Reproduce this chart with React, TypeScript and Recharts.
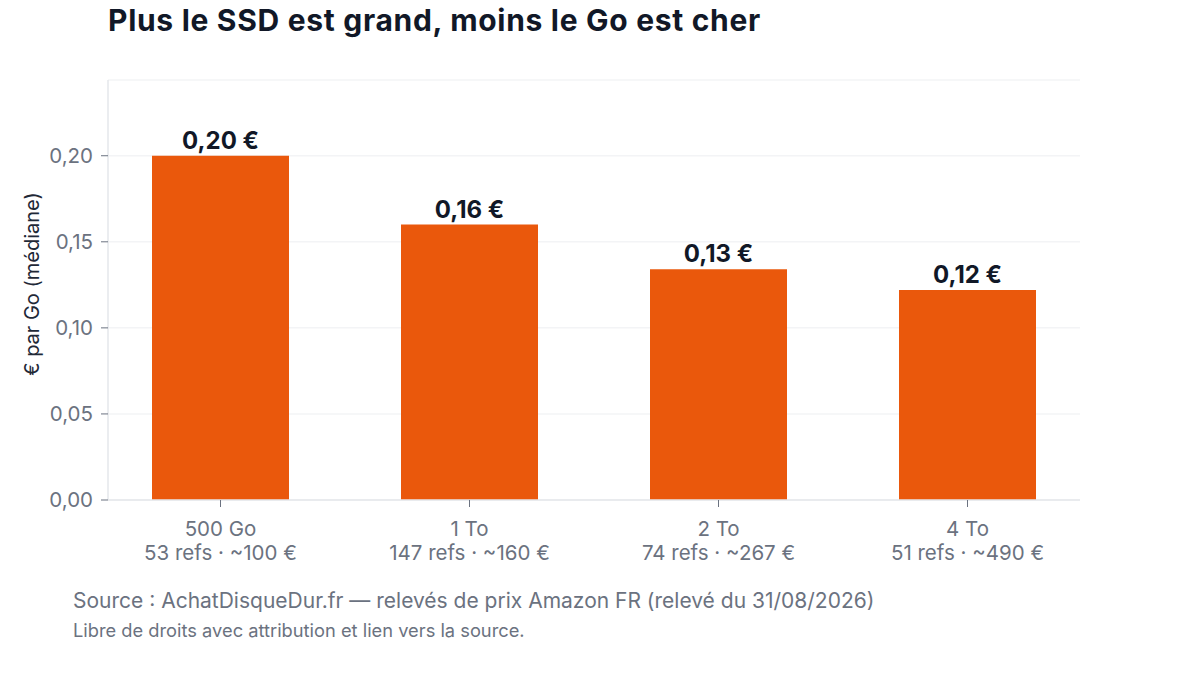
import React from 'react';
import { BarChart, Bar, XAxis, YAxis, CartesianGrid, LabelList, Label } from 'recharts';

const categories = ['500 Go', '1 To', '2 To', '4 To'];
const subLabels = ['53 refs · ~100 €', '147 refs · ~160 €', '74 refs · ~267 €', '51 refs · ~490 €'];
const pricePerGo = [0.2, 0.16, 0.134, 0.122];
const yTicks = [0, 0.05, 0.1, 0.15, 0.2];

const data = categories.map((c, i) => ({ name: c, sub: subLabels[i], value: pricePerGo[i] }));

const FONT = 'Inter, "Noto Sans", sans-serif';
const fmt = (v: number) => v.toFixed(2).replace('.', ',');

const XTick = (props: any) => {
  const { x, y, payload, index } = props;
  return (
    <g transform={`translate(${x},${y})`}>
      <text textAnchor="middle" fontFamily={FONT} fontSize={20.5} fill="#6b7280">
        <tspan x={0} dy={27}>{payload.value}</tspan>
        <tspan x={0} dy={24}>{subLabels[index]}</tspan>
      </text>
    </g>
  );
};

export default function App() {
  return (
    <div
      style={{
        position: 'absolute',
        left: 0,
        top: 0,
        width: 1200,
        height: 675,
        background: '#fff',
        fontFamily: FONT,
      }}
    >
      <div style={{ position: 'absolute', left: 108, top: 5, fontSize: 30, lineHeight: '30px', letterSpacing: 0.7, fontWeight: 700, color: '#111827', whiteSpace: 'nowrap' }}>
        Plus le SSD est grand, moins le Go est cher
      </div>
      <div style={{ position: 'absolute', left: 0, top: 0 }}>
        <BarChart width={1200} height={675} data={data} margin={{ top: 80, right: 120, bottom: 115, left: 0 }}>
          <CartesianGrid vertical={false} stroke="#f3f4f6" strokeWidth={1.5} />
          <XAxis
            dataKey="name"
            padding={{ left: -12, right: -12 }}
            height={60}
            tick={<XTick />}
            tickLine={{ stroke: '#6b7280' }}
            tickSize={7}
            axisLine={{ stroke: '#e5e7eb', strokeWidth: 1.5 }}
            interval={0}
          />
          <YAxis
            width={108}
            domain={[0, 0.244]}
            ticks={yTicks}
            tickFormatter={fmt}
            tick={{ fontFamily: FONT, fontSize: 20.5, fill: '#6b7280' }}
            tickLine={{ stroke: '#6b7280' }}
            tickSize={7}
            tickMargin={8}
            axisLine={{ stroke: '#e5e7eb', strokeWidth: 1.5 }}
            allowDataOverflow
          >
            <Label
              content={() => (
                <text
                  x={32}
                  y={284}
                  transform="rotate(-90, 32, 284)"
                  textAnchor="middle"
                  dominantBaseline="central"
                  fontFamily={FONT}
                  fontSize={20}
                  fill="#1f2937"
                >
                  € par Go (médiane)
                </text>
              )}
            />
          </YAxis>
          <Bar dataKey="value" fill="#ea580c" barSize={137} isAnimationActive={false}>
            <LabelList
              dataKey="value"
              position="top"
              offset={7}
              formatter={(v: number) => `${fmt(v)} €`}
              style={{ fontFamily: FONT, fontSize: 24, fontWeight: 700, fill: '#111827' }}
            />
          </Bar>
        </BarChart>
      </div>
      <div style={{ position: 'absolute', left: 73, top: 590, fontSize: 21, lineHeight: '21px', color: '#6b7280', whiteSpace: 'nowrap' }}>
        Source : AchatDisqueDur.fr — relevés de prix Amazon FR (relevé du 31/08/2026)
      </div>
      <div style={{ position: 'absolute', left: 73, top: 621, fontSize: 18.3, lineHeight: '18px', color: '#6b7280', whiteSpace: 'nowrap' }}>
        Libre de droits avec attribution et lien vers la source.
      </div>
    </div>
  );
}
